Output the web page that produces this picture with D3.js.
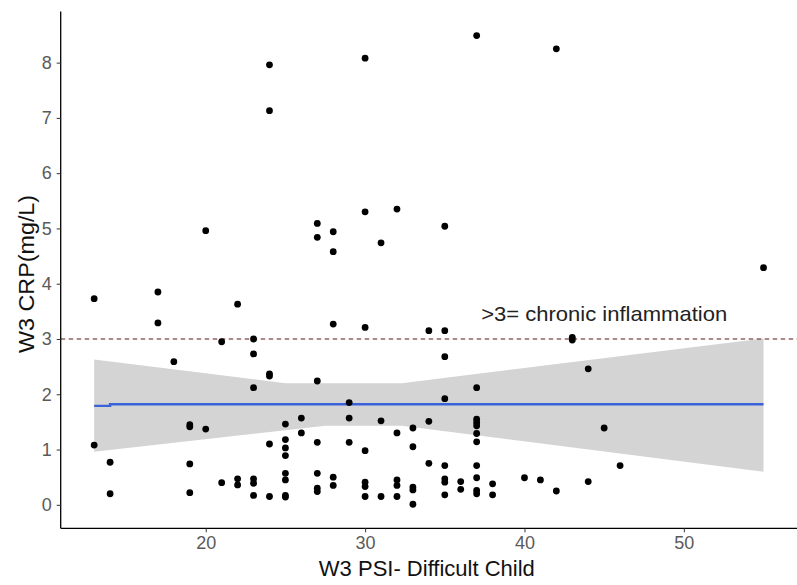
<!DOCTYPE html>
<html>
<head>
<meta charset="utf-8">
<script src="https://cdn.jsdelivr.net/npm/d3@7"></script>
<style>
  html, body { margin: 0; padding: 0; background: #fff; }
  svg { display: block; font-family: "Liberation Sans", Arial, sans-serif; }
</style>
</head>
<body>
<svg id="chart" width="797" height="585"></svg>
<script>
// ---- data ----
const psi = [13,13,14,14,17,17,18,19,19,19,19,20,20,21,21,22,22,22,23,23,23,23,23,23,
  24,24,24,24,24,24,25,25,25,25,25,25,25,25,26,26,27,27,27,27,27,27,27,28,28,28,28,28,
  29,29,29,30,30,30,30,30,30,30,31,31,31,32,32,32,32,32,33,33,33,33,33,34,34,34,
  35,35,35,35,35,35,35,35,36,36,37,37,37,37,37,37,37,37,37,37,37,38,38,40,41,42,42,
  43,43,44,44,45,46,55];
const crp = [3.73,1.08,0.77,0.20,3.85,3.29,2.59,1.45,1.41,0.74,0.22,4.96,1.37,2.95,0.40,3.63,0.47,0.36,3.00,2.73,2.12,0.47,0.39,0.17,
  7.96,7.13,2.37,2.33,1.10,0.15,1.46,1.18,1.03,0.89,0.57,0.45,0.17,0.14,1.57,1.30,5.09,4.84,2.24,1.13,0.57,0.30,0.24,4.94,4.58,3.27,0.50,0.35,
  1.85,1.57,1.13,8.08,5.30,3.21,0.98,0.41,0.33,0.15,4.74,1.52,0.15,5.35,1.30,0.45,0.35,0.15,1.39,1.05,0.32,0.27,0.01,3.15,1.51,0.75,
  5.04,3.15,2.68,1.92,0.71,0.47,0.41,0.18,0.42,0.28,8.49,2.12,1.55,1.49,1.43,1.29,1.14,0.71,0.49,0.26,0.20,0.38,0.18,0.49,0.45,8.25,0.25,
  3.03,2.98,2.46,0.42,1.39,0.71,4.29];

const smoothX = [13, 14, 14, 55];
const smoothY = [1.79, 1.79, 1.82, 1.82];
const bandX = [13, 25, 27.5, 32.3, 55];
const bandUpper = [2.63, 2.20, 2.20, 2.20, 3.01];
const bandLower = [0.96, 1.35, 1.43, 1.43, 0.60];

const threshold = 3;
const annotationText = ">3= chronic inflammation";
const annotationX = 45;
const annotationY = 3.46;

const xTicks = [20, 30, 40, 50];
const yTicks = [0, 1, 2, 3, 4, 5, 6, 7, 8];
const xTitle = "W3 PSI- Difficult Child";
const yTitle = "W3 CRP(mg/L)";

// ---- layout ----
const svg = d3.select("#chart");
const mLeft = 60.7, mRight = 797, mTop = 11.5, mBottom = 528.3;

const x = d3.scaleLinear().domain([10.9, 57.1]).range([mLeft, mRight]);
const y = d3.scaleLinear().domain([-0.425, 8.925]).range([mBottom, mTop]);

// band
const bandData = bandX.map((d, i) => ({x: d, lo: bandLower[i], hi: bandUpper[i]}));
svg.append("path")
  .datum(bandData)
  .attr("d", d3.area().x(d => x(d.x)).y0(d => y(d.lo)).y1(d => y(d.hi)))
  .attr("fill", "#d4d4d4");

// threshold dashed line
svg.append("line")
  .attr("x1", mLeft).attr("x2", mRight)
  .attr("y1", y(threshold)).attr("y2", y(threshold))
  .attr("stroke", "#5e1414").attr("stroke-width", 1.2)
  .attr("stroke-dasharray", "4.5,3.5");

// smooth line
const lineData = smoothX.map((d, i) => ({x: d, y: smoothY[i]}));
svg.append("path")
  .datum(lineData)
  .attr("d", d3.line().x(d => x(d.x)).y(d => y(d.y)))
  .attr("fill", "none")
  .attr("stroke", "#3a62d8")
  .attr("stroke-width", 2.4);

// points
svg.append("g").selectAll("circle")
  .data(psi.map((d, i) => ({x: d, y: crp[i]})))
  .join("circle")
  .attr("cx", d => x(d.x))
  .attr("cy", d => y(d.y))
  .attr("r", 3.4)
  .attr("fill", "#000");

// annotation
svg.append("text")
  .attr("x", x(annotationX)).attr("y", y(annotationY))
  .attr("text-anchor", "middle")
  .attr("dominant-baseline", "central")
  .attr("font-size", 21)
  .attr("fill", "#222")
  .attr("textLength", 246)
  .attr("lengthAdjust", "spacingAndGlyphs")
  .text(annotationText);

// axes
const xAxis = svg.append("g")
  .attr("transform", `translate(0,${mBottom})`)
  .call(d3.axisBottom(x).tickValues(xTicks).tickSize(4).tickPadding(4).tickFormat(d3.format("d")));
const yAxis = svg.append("g")
  .attr("transform", `translate(${mLeft},0)`)
  .call(d3.axisLeft(y).tickValues(yTicks).tickSize(4).tickPadding(5).tickFormat(d3.format("d")));

[xAxis, yAxis].forEach(g => {
  g.select(".domain").attr("stroke", "#000").attr("stroke-width", 1.3);
  g.selectAll(".tick line").attr("stroke", "#333").attr("stroke-width", 1);
  g.selectAll(".tick text").attr("fill", "#5a5a5a").attr("font-size", 18)
    .attr("font-family", "'Liberation Sans', Arial, sans-serif");
});
xAxis.select(".domain").attr("d", `M${mLeft},0H${mRight}`);
yAxis.select(".domain").attr("d", `M0,${mTop}V${mBottom}`);

// titles
svg.append("text")
  .attr("x", (mLeft + mRight) / 2 - 2).attr("y", 576)
  .attr("text-anchor", "middle")
  .attr("font-size", 22)
  .attr("fill", "#111")
  .attr("textLength", 216)
  .attr("lengthAdjust", "spacingAndGlyphs")
  .text(xTitle);

svg.append("text")
  .attr("transform", `translate(34,${(mTop + mBottom) / 2 + 4}) rotate(-90)`)
  .attr("text-anchor", "middle")
  .attr("font-size", 22)
  .attr("fill", "#111")
  .attr("textLength", 158)
  .attr("lengthAdjust", "spacingAndGlyphs")
  .text(yTitle);
</script>
</body>
</html>
